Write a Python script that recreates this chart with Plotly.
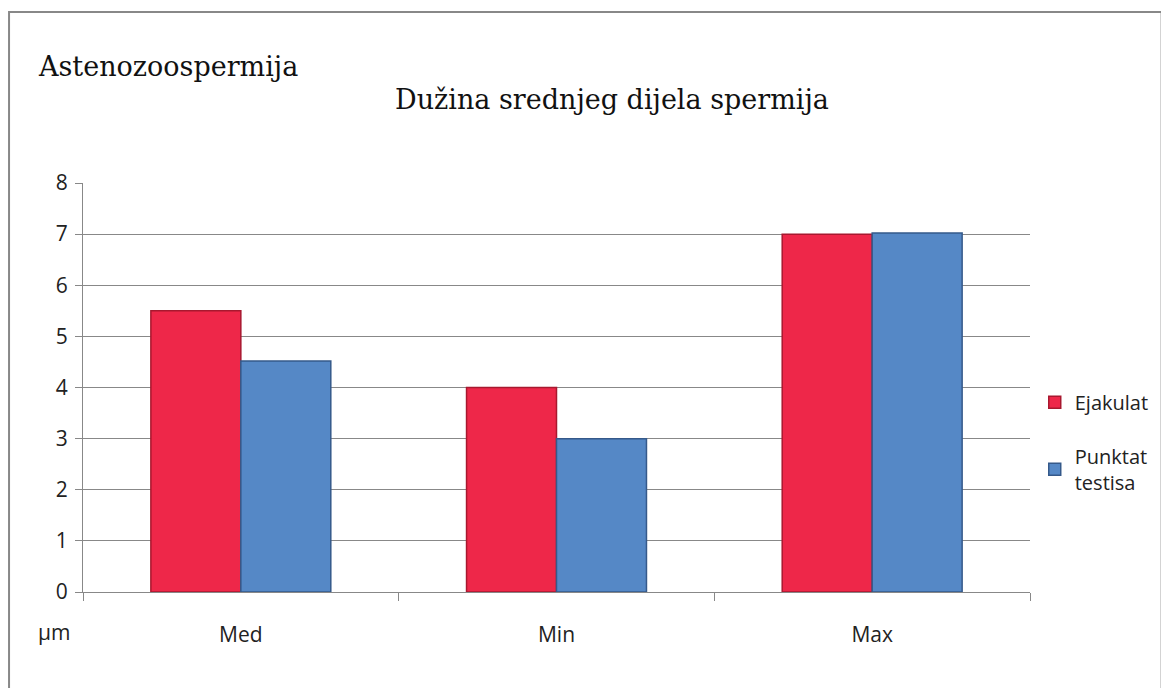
import plotly.graph_objects as go

# values (µm)
categories = ['Med', 'Min', 'Max']
ejakulat = [5.5, 4.0, 7.0]
punktat = [4.52, 3.0, 7.02]
y_ticks = [0, 1, 2, 3, 4, 5, 6, 7, 8]

fig = go.Figure()
fig.add_trace(go.Bar(
    x=categories, y=ejakulat, name='Ejakulat', legendgroup='ej',
    marker=dict(color='#EE2749', line=dict(color='#A8182F', width=1.5))
))
fig.add_trace(go.Bar(
    x=categories, y=punktat, name='Punktat<br>testisa', legendgroup='pt',
    marker=dict(color='#5588C6', line=dict(color='#35598A', width=1.5))
))

# page body has an 8px margin all round, so the figure is shrunk to fit
fig.update_layout(
    width=1161, height=680,
    margin=dict(l=75, r=139, t=175, b=96),
    paper_bgcolor='white', plot_bgcolor='white',
    barmode='group', bargap=0.43, bargroupgap=0,
    font=dict(family='Open Sans, sans-serif', size=21, color='#222'),
    showlegend=True,
    legend=dict(x=1.005, y=0.366, xanchor='left', yanchor='middle',
                traceorder='grouped', font=dict(size=20),
                tracegroupgap=25, itemwidth=30),
)

fig.update_xaxes(
    showline=True, linecolor='#888', linewidth=1,
    ticks='outside', tickson='boundaries', ticklen=8, tickcolor='#888',
    showgrid=False, tickfont=dict(size=21), ticklabelstandoff=24
)
fig.update_yaxes(
    range=[0, 8], tickvals=y_ticks, showline=True, linecolor='#888', linewidth=1,
    ticks='outside', ticklen=7, tickcolor='#888',
    showgrid=True, gridcolor='#888', gridwidth=1, zeroline=False,
    tickfont=dict(size=21), ticklabelstandoff=3
)

fig.add_annotation(text='Astenozoospermija', xref='paper', yref='paper',
                   x=-0.0496, y=1.284, xanchor='left', yanchor='middle',
                   showarrow=False, font=dict(family='DejaVu Serif', size=27, color='#111'))
fig.add_annotation(text='Dužina srednjeg dijela spermija', xref='paper', yref='paper',
                   x=0.5586, y=1.203, xanchor='center', yanchor='middle',
                   showarrow=False, font=dict(family='DejaVu Serif', size=27, color='#111'))
fig.add_annotation(text='µm', xref='paper', yref='paper',
                   x=-0.0496, y=-0.098, xanchor='left', yanchor='middle',
                   showarrow=False, font=dict(size=21, color='#222'))

# outer chart frame
fig.add_shape(type='rect', xref='paper', yref='paper',
              x0=-0.0781, x1=1.139, y0=-0.28, y1=1.418,
              line=dict(color='#888', width=2), layer='below')

fig.write_html("out.html")
